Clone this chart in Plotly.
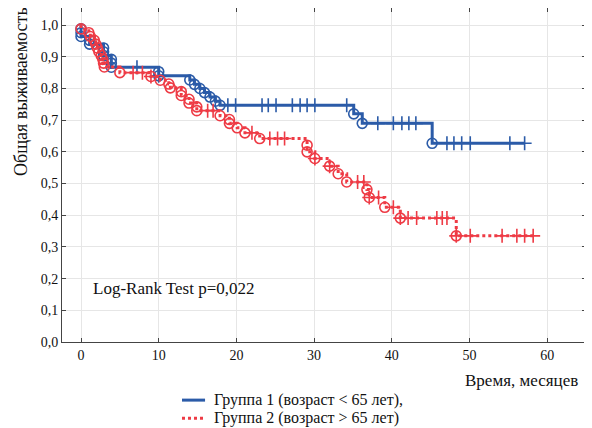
import plotly.graph_objects as go

# ---- Data ----
# Group 1 (age < 65): event times (months) and survival after each event
g1_event_t = [0.0, 0.0, 0.0, 1.1, 1.1, 2.9, 2.9, 2.9, 3.9, 3.9, 3.9,
              10.0, 10.0, 14.0, 14.6, 15.3, 15.9, 16.6, 17.3, 17.9,
              35.1, 36.2, 45.2]
g1_event_s = [0.988, 0.976, 0.964, 0.952, 0.940, 0.928, 0.916, 0.904, 0.892, 0.880, 0.867,
              0.853, 0.840, 0.827, 0.813, 0.800, 0.787, 0.773, 0.760, 0.747,
              0.720, 0.690, 0.627]
g1_cens_t = [7.2, 10.0, 18.9, 19.9, 23.3, 24.1, 25.1, 27.2, 28.2, 29.1, 30.1, 34.2,
             38.2, 40.2, 41.3, 42.2, 43.1, 47.1, 48.0, 49.0, 50.1, 55.2, 57.1]

# Group 2 (age > 65)
g2_event_t = [0.0, 1.0, 1.2, 1.7, 1.9, 2.1, 2.3, 2.6, 2.8, 2.9, 3.0,
              5.0, 9.0, 10.2, 11.3, 11.5, 12.9, 12.9, 13.9, 13.9, 14.9, 14.9,
              17.9, 19.1, 19.1, 20.1, 21.1, 23.0,
              29.1, 29.1, 30.1, 32.0, 33.1, 34.2, 36.8, 37.1, 39.1, 41.1, 48.3]
g2_event_s = [0.988, 0.976, 0.964, 0.952, 0.940, 0.928, 0.916, 0.904, 0.892, 0.880, 0.868,
              0.850, 0.838, 0.826, 0.814, 0.802, 0.790, 0.778, 0.766, 0.754, 0.742, 0.730,
              0.714, 0.702, 0.690, 0.676, 0.660, 0.642,
              0.621, 0.600, 0.579, 0.555, 0.531, 0.505, 0.481, 0.456, 0.425, 0.391, 0.335]
g2_cens_t = [6.7, 7.9, 9.0, 16.3, 17.0, 22.0, 24.3, 25.3, 26.2, 30.1, 32.0,
             35.6, 36.4, 37.1, 38.3, 40.2, 41.1, 42.1, 43.2, 45.8, 46.5, 47.1,
             48.3, 50.1, 54.2, 56.1, 57.1, 58.2]

x_ticks = [0, 10, 20, 30, 40, 50, 60]
y_ticks = [0.0, 0.1, 0.2, 0.3, 0.4, 0.5, 0.6, 0.7, 0.8, 0.9, 1.0]

names = ["Группа 1 (возраст < 65 лет),", "Группа 2 (возраст > 65 лет)"]
colors = ["#2b5ba8", "#ee3b45"]
dashes = ["solid", "dot"]

FONT = "'Liberation Serif', 'Times New Roman', 'DejaVu Serif', serif"
TXT = "#111111"


def surv_at(t, ev_t, ev_s):
    v = 1.0
    for et, es in zip(ev_t, ev_s):
        if et <= t + 1e-9:
            v = es
    return v


def step_points(ev_t, ev_s, c_t):
    pts = [(0.0, 1.0)]
    pts += list(zip(ev_t, ev_s))
    pts += [(t, surv_at(t, ev_t, ev_s)) for t in c_t]
    pts.sort(key=lambda p: (p[0], -p[1]))
    return [p[0] for p in pts], [p[1] for p in pts]


fig = go.Figure()
groups = [(g1_event_t, g1_event_s, g1_cens_t), (g2_event_t, g2_event_s, g2_cens_t)]
for i, (et, es, ct) in enumerate(groups):
    xs, ys = step_points(et, es, ct)
    fig.add_trace(go.Scatter(x=xs, y=ys, mode="lines", line_shape="hv",
                             line=dict(color=colors[i], width=3, dash=dashes[i]),
                             showlegend=False, hoverinfo="skip"))
    fig.add_trace(go.Scatter(x=et, y=es, mode="markers", showlegend=False,
                             marker=dict(symbol="circle-open", size=10,
                                         color=colors[i], line=dict(width=1.6, color=colors[i]))))
    cy = [surv_at(t, et, es) for t in ct]
    fig.add_trace(go.Scatter(x=ct, y=cy, mode="markers", showlegend=False,
                             marker=dict(symbol="cross-thin", size=10,
                                         color=colors[i], line=dict(width=1.6, color=colors[i]))))

axis_common = dict(showgrid=True, gridcolor="#e6e6e6", gridwidth=1, zeroline=False,
                   showline=True, linecolor="#444444", linewidth=1, mirror="ticks",
                   ticks="inside", ticklen=4, tickcolor="#444444", automargin=False,
                   tickfont=dict(family=FONT, size=14, color=TXT))

fig.update_xaxes(range=[-2.45, 65], tickvals=x_ticks, **axis_common)
fig.update_yaxes(range=[0, 1.054], tickvals=y_ticks, tickformat=".1f", **axis_common)

# Legend drawn below the plot (paper coordinates)
leg_y = [-0.174, -0.228]
shapes = []
annotations = []
for i in range(2):
    shapes.append(dict(type="line", xref="paper", yref="paper",
                       x0=0.229, x1=0.273, y0=leg_y[i], y1=leg_y[i],
                       line=dict(color=colors[i], width=3, dash=dashes[i])))
    annotations.append(dict(text=names[i], xref="paper", yref="paper",
                            x=0.287, y=leg_y[i], xanchor="left", yanchor="middle",
                            showarrow=False, font=dict(family=FONT, size=16, color=TXT)))

annotations += [
    dict(text="Общая выживаемость", xref="paper", yref="paper",
         x=-0.078, y=0.749, xanchor="center", yanchor="middle",
         textangle=-90, showarrow=False,
         font=dict(family=FONT, size=18, color=TXT)),
    dict(text="Время, месяцев", xref="paper", yref="paper",
         x=0.989, y=-0.114, xanchor="right", yanchor="middle",
         showarrow=False, font=dict(family=FONT, size=17, color=TXT)),
    dict(text="Log-Rank Test p=0,022", xref="x", yref="y",
         x=1.3, y=0.168, xanchor="left", yanchor="middle",
         showarrow=False, font=dict(family=FONT, size=17, color=TXT)),
]

# The page body has an 8px default margin, so the figure is 8px smaller
# in each direction and margins are offset to keep the plot where the reference has it.
fig.update_layout(
    width=584, height=420,
    margin=dict(l=54, r=6, t=0, b=86),
    paper_bgcolor="white", plot_bgcolor="white",
    separators=", ",
    showlegend=False,
    font=dict(family=FONT, size=16, color=TXT),
    shapes=shapes,
    annotations=annotations,
)

fig.write_html("out.html")
